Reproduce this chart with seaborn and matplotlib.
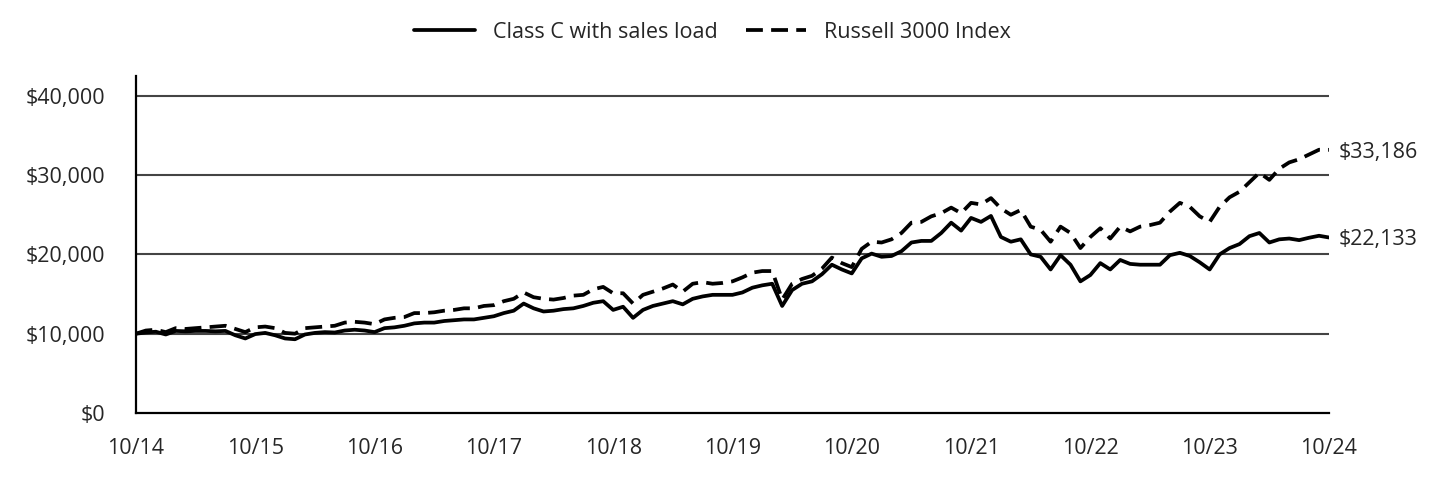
import numpy as np
import pandas as pd
import matplotlib
matplotlib.use('Agg')
import matplotlib.pyplot as plt
import seaborn as sns
from matplotlib.lines import Line2D

# Valores mensais estimados (10/14 a 10/24)
class_c = [
    10000, 10150, 10250, 9900, 10350, 10300, 10350, 10350, 10300, 10350, 9800, 9400,
    9950, 10100, 9800, 9400, 9300, 9900, 10100, 10200, 10150, 10400, 10500, 10400,
    10200, 10700, 10800, 11000, 11300, 11400, 11400, 11600, 11700, 11800, 11800, 12000,
    12200, 12600, 12900, 13800, 13200, 12800, 12900, 13100, 13200, 13500, 13900, 14100,
    13000, 13400, 12000, 13000, 13500, 13800, 14100, 13700, 14400, 14700, 14900, 14900,
    14900, 15200, 15800, 16100, 16300, 13500, 15500, 16300, 16600, 17500, 18700, 18100,
    17600, 19500, 20100, 19700, 19800, 20400, 21500, 21700, 21700, 22700, 24000, 23000,
    24600, 24100, 24850, 22200, 21600, 21900, 20000, 19700, 18100, 19900, 18700, 16600,
    17400, 18900, 18100, 19300, 18800, 18700, 18700, 18700, 19900, 20200, 19800, 19000,
    18100, 20000, 20800, 21300, 22300, 22700, 21500, 21900, 22000, 21800, 22100, 22350,
    22133,
]
russell = [
    10000, 10400, 10500, 10200, 10700, 10600, 10700, 10800, 10900, 11000, 10600, 10200,
    10800, 10900, 10700, 10100, 10000, 10700, 10800, 10900, 11000, 11400, 11500, 11400,
    11200, 11800, 12000, 12100, 12600, 12600, 12700, 12900, 13000, 13200, 13200, 13500,
    13600, 14100, 14400, 15200, 14600, 14400, 14300, 14500, 14800, 14900, 15600, 15900,
    15100, 15100, 13800, 14900, 15300, 15700, 16200, 15300, 16300, 16500, 16300, 16400,
    16600, 17100, 17700, 17900, 17900, 14300, 16300, 16900, 17300, 18200, 19600, 18900,
    18400, 20700, 21600, 21500, 21900, 22700, 24000, 24100, 24800, 25200, 25900, 25200,
    26500, 26300, 27100, 25800, 25000, 25600, 23500, 23100, 21600, 23500, 22700, 20800,
    22200, 23300, 22000, 23500, 22900, 23500, 23700, 24000, 25400, 26500, 26000, 24800,
    24100, 26000, 27200, 27900, 29100, 30300, 29400, 30800, 31600, 32000, 32600, 33200,
    33186,
]
tick_labels = ['10/14', '10/15', '10/16', '10/17', '10/18', '10/19',
               '10/20', '10/21', '10/22', '10/23', '10/24']
y_ticks = [0, 10000, 20000, 30000, 40000]
series_names = ['Class C with sales load', 'Russell 3000 Index']

meses = np.arange(len(class_c))
df = pd.DataFrame({
    'mes': np.concatenate([meses, meses]),
    'valor': class_c + russell,
    'serie': [series_names[0]] * len(class_c) + [series_names[1]] * len(russell),
})

sns.set_style('white')
plt.rcParams['font.family'] = ['Open Sans', 'DejaVu Sans']
fs = 15.5
lw = 2.7
traco = (4.5, 2.2)

fig = plt.figure(figsize=(14.4, 4.8), dpi=100)
ax = fig.add_axes([0.0944, 0.1396, 0.8285, 0.7021])

ax.grid(False)
for y in y_ticks[1:]:
    ax.axhline(y, color='#444444', linewidth=1.5, zorder=1)

sns.lineplot(data=df, x='mes', y='valor', hue='serie', style='serie',
             palette={series_names[0]: 'black', series_names[1]: 'black'},
             dashes={series_names[0]: '', series_names[1]: traco},
             linewidth=lw, ax=ax, legend=False, zorder=3)

ax.set_xlim(0, 120)
ax.set_ylim(0, 42500)
ax.set_xticks(np.arange(0, 121, 12))
ax.set_xticklabels(tick_labels, fontsize=fs)
ax.set_yticks(y_ticks)
ax.set_yticklabels(['${:,.0f}'.format(v) for v in y_ticks], fontsize=fs)
ax.tick_params(axis='both', length=0)
ax.tick_params(axis='y', pad=22)
ax.tick_params(axis='x', pad=18)
ax.set_xlabel('')
ax.set_ylabel('')

for lado in ['top', 'right']:
    ax.spines[lado].set_visible(False)
for lado in ['left', 'bottom']:
    ax.spines[lado].set_color('black')
    ax.spines[lado].set_linewidth(1.6)

# Rótulos no final das linhas
ax.text(121, class_c[-1], '${:,.0f}'.format(class_c[-1]), fontsize=fs,
        va='center_baseline', ha='left', clip_on=False)
ax.text(121, russell[-1], '${:,.0f}'.format(russell[-1]), fontsize=fs,
        va='center_baseline', ha='left', clip_on=False)

# Legenda
handles = [Line2D([0], [0], color='black', linewidth=lw),
           Line2D([0], [0], color='black', linewidth=lw, dashes=traco)]
fig.legend(handles, series_names, loc='upper center', bbox_to_anchor=(0.495, 0.995),
           ncol=2, frameon=False, fontsize=fs, handlelength=2.8,
           columnspacing=1.3, handletextpad=0.85)

fig.savefig('out.png', dpi=100)
